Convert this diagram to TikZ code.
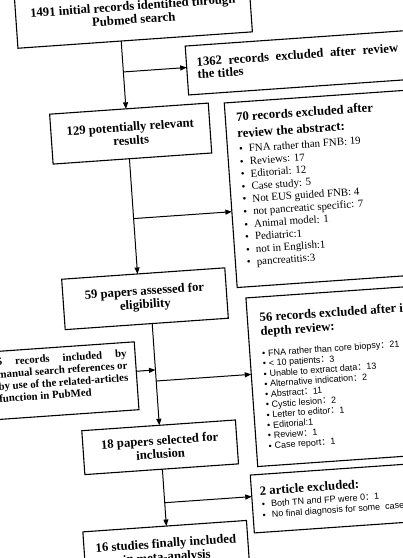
\documentclass[tikz,border=0pt]{standalone}
\usepackage{fontspec}
\setmainfont{Liberation Serif}
\setsansfont{Liberation Sans}
\newfontfamily\cjkfont{Noto Sans CJK SC}
\usetikzlibrary{arrows.meta}
\newcommand\fc{{\cjkfont ：}}
\newcommand\vlines[2]{\vtop{\baselineskip=#1\lineskiplimit=-50pt\lineskip=0pt\relax #2}}
\newcommand\tfont{\bfseries\fontsize{12.7}{13.5}\selectfont}
\newcommand\bitem[2]{\hbox{\makebox[#1][l]{\textbullet}#2}}
\begin{document}
\begin{tikzpicture}[x=1pt,y=1pt,
  box/.style={draw, line width=1.1pt, inner sep=0pt, outer sep=0pt},
  mainbox/.style={box, align=center, font=\tfont},
  txt/.style={inner sep=0pt, outer sep=0pt, anchor=base west},
  arr/.style={line width=1pt, -{Triangle[length=6.5pt,width=5pt]}}]
\fill[white] (0,0) rectangle (403,558);
\useasboundingbox (0,0) rectangle (403,558);
\clip (0,0) rectangle (403,558);
\begin{scope}[transform canvas={shift={(201.5pt,279pt)},rotate=4}]
 % main column
 \node[mainbox, minimum width=235pt, minimum height=55pt] (b1) at (-49.5,270.5) {1491 initial records identified through\\Pubmed search};
 \node[mainbox, minimum width=159pt, minimum height=50pt] (b2) at (-60.5,150) {129 potentially relevant\\results};
 \node[mainbox, minimum width=163.5pt, minimum height=50.5pt] (b4) at (-57.75,-15.75) {59 papers assessed for\\eligibility};
 \node[box, minimum width=146.5pt, minimum height=68pt] (b5) at (-144.75,-92) {};
 \node[mainbox, minimum width=154pt, minimum height=44pt] (b6) at (-53,-165) {18 papers selected for\\inclusion};
 \node[mainbox, minimum width=164pt, minimum height=50pt] (b7) at (-54,-269) {16 studies finally included\\in meta-analysis};
 % side boxes
 \node[box, minimum width=260pt, minimum height=49pt, anchor=south west] (e1) at (0,184.5) {};
 \node[box, minimum width=230pt, minimum height=185pt, anchor=south west] (e2) at (35,-11) {};
 \node[box, minimum width=230pt, minimum height=169pt, anchor=south west] (e3) at (43,-191) {};
 \node[box, minimum width=230pt, minimum height=58pt, anchor=south west] (e4) at (35,-257) {};
 % texts
 \node[txt, font=\tfont] (t1) at (10.3,212.5) {\vlines{12.5pt}{\hbox{\makebox[202pt][s]{1362 records excluded after review}}\hbox{the titles}}};
 \node[txt, font=\tfont] (t2) at (46,155) {\vlines{16.7pt}{\hbox{70 records excluded after}\hbox{review the abstract:}}};
 \node[txt, font=\fontsize{10.9}{12.6}\selectfont] (l2) at (46.5,123.4) {\vlines{12.6pt}{%
   \bitem{9.9pt}{FNA rather than FNB: 19}\bitem{9.9pt}{Reviews: 17}\bitem{9.9pt}{Editorial: 12}%
   \bitem{9.9pt}{Case study: 5}\bitem{9.9pt}{Not EUS guided FNB: 4}\bitem{9.9pt}{not pancreatic specific: 7}%
   \bitem{9.9pt}{Animal model: 1}\bitem{9.9pt}{Pediatric:1}\bitem{9.9pt}{not in English:1}\bitem{9.9pt}{pancreatitis:3}}};
 \node[txt, font=\bfseries\fontsize{10.8}{12.2}\selectfont] (t5) at (-210,-72.5) {\vlines{12.2pt}{%
   \hbox{\makebox[130pt][s]{5 records included by}}\hbox{\makebox[130pt][s]{manual search references or}}%
   \hbox{\makebox[130pt][s]{by use of the related-articles}}\hbox{function in PubMed}}};
 \node[txt, font=\tfont] (t3) at (55.3,-46.8) {\vlines{14pt}{\hbox{56 records excluded after in}\hbox{depth review:}}};
 \node[txt, font=\sffamily\fontsize{9}{10.3}\selectfont] (l3) at (55.4,-81.6) {\vlines{10.3pt}{%
   \bitem{5.9pt}{FNA rather than core biopsy\fc21}\bitem{5.9pt}{< 10 patients\fc3}\bitem{5.9pt}{Unable to extract data\fc13}%
   \bitem{5.9pt}{Alternative indication\fc2}\bitem{5.9pt}{Abstract\fc11}\bitem{5.9pt}{Cystic lesion\fc2}%
   \bitem{5.9pt}{Letter to editor\fc1}\bitem{5.9pt}{Editorial:1}\bitem{5.9pt}{Review\fc1}\bitem{5.9pt}{Case report\fc1}}};
 \node[txt, font=\tfont] (t4) at (43.5,-219.8) {2 article excluded:};
 \node[txt, font=\sffamily\fontsize{9}{10.7}\selectfont] (l4) at (44.6,-232.1) {\vlines{10.7pt}{%
   \bitem{9.3pt}{Both TN and FP were 0\fc1}\bitem{9.3pt}{No final diagnosis for some\ \ case}}};
 % junctions
 \coordinate (j1) at (-63.5,212);
 \coordinate (j2) at (-63.5,65);
 \coordinate (j3) at (-52.3,-87.5);
 \coordinate (j4) at (-52.3,-98.6);
 \coordinate (j5) at (-52.3,-220.6);
 % connectors
 \draw[arr] (b1.south -| j1) -- (b2.north -| j1);
 \draw[arr] (j1) -- (e1.west |- j1);
 \draw[arr] (b2.south -| j2) -- (b4.north -| j2);
 \draw[arr] (j2) -- (e2.west |- j2);
 \draw[arr] (b4.south -| j3) -- (b6.north -| j3);
 \draw[arr] (b5.east |- j3) -- (j3);
 \draw[arr] (j4) -- (e3.west |- j4);
 \draw[arr] (b6.south -| j5) -- (b7.north -| j5);
 \draw[arr] (j5) -- (e4.west |- j5);
\end{scope}
\end{tikzpicture}
\end{document}
